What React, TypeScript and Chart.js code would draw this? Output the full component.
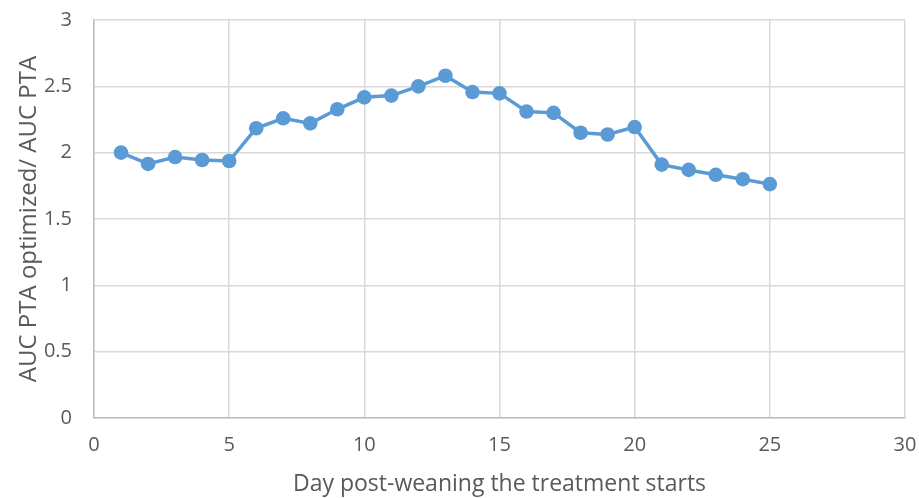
import React, { useEffect, useRef } from "react";
import { Chart, registerables } from "chart.js";

Chart.register(...registerables);

const days = [1, 2, 3, 4, 5, 6, 7, 8, 9, 10, 11, 12, 13, 14, 15, 16, 17, 18, 19, 20, 21, 22, 23, 24, 25];
const ratio = [2.0, 1.915, 1.967, 1.945, 1.937, 2.184, 2.259, 2.221, 2.327, 2.417, 2.43, 2.5, 2.58, 2.457, 2.447, 2.31, 2.3, 2.15, 2.137, 2.193, 1.91, 1.87, 1.833, 1.8, 1.763];
const xTitle = "Day post-weaning the treatment starts";
const yTitle = "AUC PTA optimized/ AUC PTA";

export default function App() {
  const ref = useRef<HTMLCanvasElement>(null);
  useEffect(() => {
    if (!ref.current) return;
    const font = "'Open Sans', sans-serif";
    const chart = new Chart(ref.current, {
      type: "line",
      data: {
        datasets: [
          {
            data: days.map((d, i) => ({ x: d, y: ratio[i] })),
            borderColor: "#5b9bd5",
            backgroundColor: "#5b9bd5",
            borderWidth: 3.5,
            pointRadius: 7.3,
            pointBorderWidth: 0,
            pointBackgroundColor: "#5b9bd5",
          },
        ],
      },
      options: {
        responsive: false,
        animation: false,
        layout: { autoPadding: false, padding: { top: 0, right: 0, left: 15, bottom: 0 } },
        plugins: { legend: { display: false }, tooltip: { enabled: false } },
        scales: {
          x: {
            type: "linear",
            min: 0,
            max: 30,
            afterFit: (s: any) => { s.height = 80; s.paddingLeft = 0; s.paddingRight = 14; },
            ticks: { stepSize: 5, color: "#595959", font: { family: font, size: 20 }, padding: 15, callback: (v: any) => String(v) },
            grid: { color: "#d9d9d9", lineWidth: 1.5, drawTicks: false },
            border: { color: "#bfbfbf", width: 1.5 },
            title: { display: true, text: xTitle, color: "#595959", font: { family: font, size: 23 }, padding: { top: 12, bottom: 0 } },
          },
          y: {
            min: 0,
            max: 3,
            afterFit: (s: any) => { s.width = 79; s.paddingTop = 20; s.paddingBottom = 0; },
            ticks: { stepSize: 0.5, color: "#595959", font: { family: font, size: 20 }, padding: 22, callback: (v: any) => String(v) },
            grid: { color: "#d9d9d9", lineWidth: 1.5, drawTicks: false },
            border: { color: "#bfbfbf", width: 1.5 },
            title: { display: true, text: yTitle, color: "#595959", font: { family: font, size: 24 }, padding: { top: 0, bottom: 0 } },
          },
        },
      },
    });
    return () => chart.destroy();
  }, []);
  return (
    <div style={{ position: "fixed", left: 0, top: 0, width: 919, height: 498, background: "#fff" }}>
      <canvas ref={ref} width={919} height={498} />
    </div>
  );
}
